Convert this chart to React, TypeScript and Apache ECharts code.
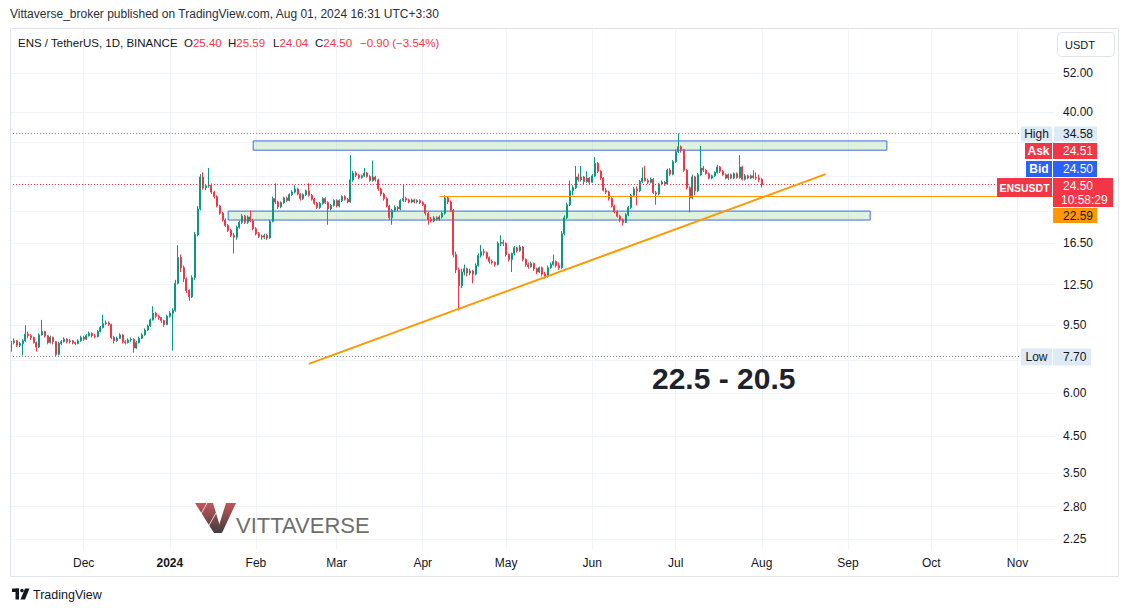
import React, { useEffect, useRef } from "react";
import * as echarts from "echarts";

// ---------- data ----------
const START_UTC = Date.UTC(2023, 10, 5); // first daily candle: 2023-11-05
const AXIS_DAYS = 376; // daily slots on the time axis (incl. empty future)
const FIRST_OPEN = 8.05;

// daily candles, each [close, high, low]; open = previous close
const nov2023 = [
  [8.45, 8.55, 7.95], [8.55, 8.7, 8.35], [8.3, 8.6, 8.2], [8.4, 8.5, 8.2], [8.55, 8.65, 7.75],
  [8.95, 9.5, 8.5], [8.85, 9.1, 8.7], [8.75, 8.95, 8.6], [8.45, 8.8, 8.4], [8.2, 8.5, 7.95],
  [8.9, 9.0, 8.15], [9.1, 9.85, 8.85], [8.85, 9.15, 8.75], [8.45, 8.9, 8.35], [8.75, 8.85, 8.4],
  [8.5, 8.8, 8.35], [7.8, 8.55, 7.7], [8.4, 8.5, 7.75], [8.5, 8.6, 8.3], [8.65, 8.75, 8.45],
  [8.5, 8.7, 8.4], [8.55, 8.65, 8.4], [8.45, 8.6, 8.35], [8.4, 8.5, 8.3], [8.55, 8.65, 8.35],
  [8.75, 8.85, 8.5],
];
const dec2023 = [
  [8.65, 8.85, 8.55], [8.85, 8.95, 8.6], [9.0, 9.1, 8.8], [8.85, 9.05, 8.75], [8.8, 8.95, 8.7],
  [9.1, 9.2, 8.75], [9.35, 9.45, 9.05], [9.6, 10.2, 9.3], [9.65, 9.8, 9.5], [9.55, 9.75, 9.45],
  [8.75, 9.6, 8.65], [8.55, 8.85, 8.4], [8.7, 8.8, 8.5], [8.9, 9.0, 8.65], [8.5, 8.95, 8.4],
  [8.45, 8.6, 8.35], [8.6, 8.7, 8.4], [8.65, 8.75, 8.5], [8.15, 8.7, 7.9], [8.45, 8.55, 8.1],
  [8.7, 8.8, 8.4], [8.9, 9.0, 8.65], [9.2, 9.3, 8.85], [9.45, 9.55, 9.15], [9.85, 9.95, 9.4],
  [10.3, 10.8, 9.8], [10.1, 10.4, 9.95], [10.0, 10.2, 9.85], [9.8, 10.05, 9.65], [9.55, 9.85, 9.4],
  [10.1, 10.2, 9.5],
];
const jan2024 = [
  [10.3, 10.45, 10.0], [10.5, 10.65, 8.0], [12.6, 12.9, 10.4], [15.0, 16.3, 12.5], [14.0, 15.3, 13.6],
  [13.0, 14.2, 12.7], [12.0, 13.1, 11.8], [11.5, 12.1, 11.2], [13.1, 13.3, 11.4], [17.5, 17.8, 12.9],
  [20.8, 21.2, 17.3], [25.8, 26.3, 20.6], [24.0, 26.6, 23.7], [24.3, 24.6, 23.6], [24.4, 27.4, 24.0],
  [23.3, 24.7, 23.0], [22.6, 23.5, 22.3], [21.2, 22.8, 21.0], [20.2, 21.4, 20.0], [19.3, 20.4, 19.1],
  [18.6, 19.5, 18.4], [18.0, 18.8, 17.8], [17.4, 18.2, 17.2], [17.2, 17.7, 15.4], [18.4, 18.6, 16.9],
  [19.0, 19.2, 18.2], [19.8, 20.1, 18.8], [19.0, 20.0, 18.8], [19.7, 19.9, 18.8], [19.2, 20.6, 19.0],
  [18.2, 19.4, 18.0],
];
const feb2024 = [
  [17.6, 18.4, 17.4], [17.3, 17.8, 17.1], [17.2, 17.5, 16.9], [17.4, 17.6, 17.0], [17.1, 17.6, 16.9],
  [19.1, 19.3, 17.0], [22.3, 22.6, 19.0], [21.8, 24.7, 21.5], [21.1, 22.0, 20.8], [21.7, 21.9, 20.9],
  [22.4, 22.6, 21.5], [22.0, 22.6, 21.8], [22.9, 23.1, 21.9], [23.3, 23.6, 22.7], [23.8, 24.4, 23.1],
  [23.0, 24.0, 22.8], [22.3, 23.1, 22.0], [22.9, 23.1, 22.1], [23.5, 23.7, 22.7], [22.8, 24.7, 22.6],
  [22.2, 23.0, 22.0], [21.6, 22.4, 21.4], [21.0, 21.8, 20.8], [21.6, 21.8, 20.8], [22.3, 22.5, 21.4],
  [21.7, 22.5, 21.5], [20.8, 21.9, 18.7], [21.3, 21.5, 20.6], [22.0, 22.2, 21.1],
];
const mar2024 = [
  [21.2, 22.2, 21.0], [22.0, 22.2, 21.0], [22.6, 22.8, 21.8], [22.2, 22.8, 22.0], [21.8, 22.4, 21.6],
  [25.3, 29.9, 21.7], [26.5, 26.9, 25.0], [26.1, 26.8, 25.8], [25.7, 26.3, 25.4], [26.0, 26.2, 25.5],
  [26.5, 27.4, 25.8], [25.9, 26.7, 25.7], [25.2, 26.1, 25.0], [25.8, 28.8, 25.0], [25.3, 26.0, 25.0],
  [23.8, 25.5, 23.5], [23.0, 24.0, 22.7], [22.3, 23.2, 22.0], [21.2, 22.5, 21.0], [19.6, 21.4, 19.3],
  [20.6, 20.8, 18.7], [21.0, 21.3, 20.4], [20.8, 21.2, 20.5], [22.0, 22.2, 20.6], [22.3, 24.4, 21.8],
  [22.1, 22.6, 21.8], [21.8, 22.3, 21.6], [22.1, 22.3, 21.6], [21.8, 22.3, 21.6], [22.0, 22.2, 21.6],
  [21.7, 22.2, 21.5],
];
const apr2024 = [
  [21.4, 21.9, 21.2], [20.2, 21.5, 19.9], [19.4, 20.4, 18.7], [19.2, 19.7, 19.0], [19.6, 19.8, 19.0],
  [19.4, 19.8, 19.2], [19.7, 19.9, 19.2], [20.2, 20.4, 19.5], [22.4, 22.8, 20.0], [21.8, 22.6, 21.5],
  [20.6, 22.0, 20.4], [15.3, 20.8, 15.0], [13.8, 15.6, 13.5], [12.4, 14.0, 10.5], [13.6, 13.9, 12.2],
  [13.9, 14.3, 13.3], [13.5, 14.0, 13.2], [13.7, 13.9, 13.3], [13.4, 13.8, 12.6], [14.2, 14.4, 13.3],
  [15.2, 15.4, 14.1], [15.6, 16.3, 15.0], [15.5, 15.9, 15.2], [15.0, 15.6, 14.8], [14.6, 15.1, 14.4],
  [14.5, 14.8, 14.3], [14.3, 14.6, 14.1], [16.5, 16.7, 14.2], [16.6, 17.4, 16.2], [16.5, 16.9, 16.2],
];
const may2024 = [
  [15.3, 16.6, 15.1], [14.8, 15.4, 14.6], [15.4, 15.5, 13.6], [16.0, 16.2, 15.2], [15.7, 16.1, 15.5],
  [16.1, 16.3, 15.6], [14.8, 16.2, 14.6], [14.3, 14.9, 14.1], [14.1, 14.5, 13.9], [14.4, 14.6, 14.0],
  [13.9, 14.5, 13.7], [13.6, 14.0, 13.4], [14.0, 14.1, 13.5], [13.4, 14.1, 13.2], [13.2, 13.6, 13.0],
  [14.0, 14.2, 13.1], [14.3, 14.5, 13.9], [14.6, 15.3, 14.2], [14.2, 14.7, 14.0], [14.0, 14.5, 13.8],
  [17.6, 17.9, 13.9], [19.6, 19.9, 17.4], [21.4, 21.7, 19.4], [23.5, 25.2, 21.2], [24.0, 24.4, 22.8],
  [25.8, 27.8, 23.8], [25.3, 26.4, 25.0], [25.8, 27.8, 25.0], [25.0, 26.0, 24.6], [25.6, 26.8, 24.8],
  [24.9, 25.8, 24.6],
];
const jun2024 = [
  [26.0, 26.3, 24.8], [28.3, 29.5, 25.8], [26.8, 28.5, 26.5], [25.6, 27.0, 25.3], [23.6, 25.8, 23.4],
  [23.3, 24.0, 23.0], [22.3, 23.5, 22.0], [21.2, 22.5, 21.0], [20.4, 21.4, 20.2], [19.8, 20.6, 19.6],
  [19.3, 20.0, 19.0], [19.0, 19.5, 18.6], [20.0, 20.2, 18.9], [21.0, 21.2, 19.8], [22.8, 23.0, 20.8],
  [23.8, 24.1, 22.6], [23.5, 24.2, 21.3], [25.0, 25.3, 23.3], [25.6, 27.5, 24.8], [25.2, 27.8, 25.0],
  [24.9, 25.5, 24.6], [25.4, 25.7, 24.7], [23.2, 25.6, 23.0], [23.0, 23.5, 21.4], [24.6, 24.8, 22.8],
  [24.9, 25.2, 24.4], [24.6, 25.1, 24.3], [27.0, 27.3, 24.5], [26.3, 27.4, 26.0], [28.6, 28.9, 26.1],
];
const jul2024 = [
  [30.6, 31.0, 28.4], [31.6, 34.58, 30.3], [31.0, 31.9, 30.4], [27.0, 31.2, 26.7], [24.0, 27.2, 23.7],
  [22.4, 24.2, 20.3], [25.8, 26.2, 22.2], [23.5, 26.0, 22.8], [26.2, 26.5, 23.3], [27.4, 31.8, 26.0],
  [27.0, 27.8, 26.7], [26.4, 27.2, 26.2], [25.6, 26.6, 25.4], [26.0, 26.2, 25.4], [26.6, 26.8, 25.8],
  [27.6, 28.0, 26.4], [26.8, 27.8, 26.5], [26.2, 27.0, 26.0], [25.6, 26.4, 25.4], [26.2, 26.4, 25.3],
  [25.6, 26.4, 25.4], [26.4, 26.6, 25.4], [25.7, 26.6, 25.5], [27.6, 29.9, 25.5], [25.4, 27.8, 25.2],
  [26.0, 26.3, 25.2], [25.6, 26.2, 25.4], [26.0, 26.2, 25.4], [25.7, 27.0, 25.5], [25.6, 26.6, 25.3],
  [25.4, 26.2, 24.9],
];
const aug2024 = [[24.5, 25.59, 24.04]];

const LEGEND_OHLC = ["25.40", "25.59", "24.04", "24.50"];
const LEGEND_CHANGE = "\u22120.90 (\u22123.54%)";

const monthLabels = ["Dec", "2024", "Feb", "Mar", "Apr", "May", "Jun", "Jul", "Aug", "Sep", "Oct", "Nov"];
const priceTicks = [52, 40, 16.5, 12.5, 9.5, 6, 4.5, 3.5, 2.8, 2.25];
const gridPrices = [52, 40, 32.5, 26, 20.5, 16.5, 12.5, 9.5, 7.5, 6, 4.5, 3.5, 2.8, 2.25];

const HIGH = 34.58;
const LOW = 7.7;
const LAST = 24.5;
const ASK = 24.51;
const BID = 24.5;
const H_LEVEL = 22.59;
const COUNTDOWN = "10:58:29";

const trendLine = [["2024-02-20", 7.32], ["2024-08-24", 26.3]];
const hLevelStart = "2024-04-07";
const upperZone = { from: "2024-01-31", to: "2024-09-15", top: 32.9, bottom: 30.9 };
const lowerZone = { from: "2024-01-22", to: "2024-09-09", top: 20.5, bottom: 19.3 };

const Y_MIN = 2.103;
const Y_MAX = 70.4;

// ---------- styles ----------
const UP = "#089981";
const DOWN = "#f23645";
const BLUE = "#2962ff";
const ORANGE = "#ff9800";
const TEXT = "#131722";
const TAG_BG = "#dfeaf7";
const GRID = "#f0f3fa";
const FONT = '"Liberation Sans", Arial, sans-serif';

function buildCategories(): string[] {
  const out: string[] = [];
  for (let i = 0; i < AXIS_DAYS; i++) {
    out.push(new Date(START_UTC + i * 86400000).toISOString().slice(0, 10));
  }
  return out;
}

function buildCandles(): number[][] {
  const months = [nov2023, dec2023, jan2024, feb2024, mar2024, apr2024, may2024, jun2024, jul2024, aug2024];
  const out: number[][] = [];
  let open = FIRST_OPEN;
  for (const m of months) {
    for (const [c, h, l] of m) {
      out.push([open, c, l, h]);
      open = c;
    }
  }
  return out;
}

export default function App() {
  const ref = useRef<HTMLDivElement>(null);

  useEffect(() => {
    const el = ref.current as HTMLDivElement;
    const chart = echarts.init(el, null, { renderer: "svg" });
    const categories = buildCategories();
    const candles = buildCandles();
    const monthStarts = categories.filter((d) => d.endsWith("-01"));
    const labelOf: Record<string, string> = {};
    monthStarts.forEach((d, k) => (labelOf[d] = monthLabels[k] || ""));
    const lastCat = categories[categories.length - 1];

    const option: any = {
      animation: false,
      backgroundColor: "#ffffff",
      grid: { left: 10, right: 74, top: 28, bottom: 63, containLabel: false },
      xAxis: {
        type: "category",
        data: categories,
        boundaryGap: true,
        axisLine: { show: false },
        axisTick: { show: false },
        splitLine: { show: false },
        axisLabel: {
          interval: (_i: number, v: string) => v.endsWith("-01"),
          formatter: (v: string) => (labelOf[v] === "2024" ? "{b|2024}" : labelOf[v] || ""),
          color: TEXT,
          fontSize: 12,
          fontFamily: FONT,
          margin: 8,
          rich: { b: { fontWeight: "bold", fontSize: 12, color: TEXT, fontFamily: FONT } },
        },
      },
      yAxis: {
        type: "log",
        position: "right",
        min: Y_MIN,
        max: Y_MAX,
        axisLine: { show: false },
        axisTick: { show: false },
        axisLabel: { show: false },
        splitLine: { show: false },
      },
      series: [
        {
          type: "line",
          data: [],
          z: 0,
          silent: true,
          markLine: {
            silent: true,
            z: 0,
            symbol: ["none", "none"],
            label: { show: false },
            lineStyle: { color: GRID, width: 1, type: "solid" },
            data: [
              ...gridPrices.map((v) => ({ yAxis: v })),
              ...monthStarts.map((d) => ({ xAxis: d })),
            ],
          },
        },
        {
          type: "candlestick",
          data: candles,
          barWidth: 1.5,
          z: 2,
          itemStyle: { color: UP, color0: DOWN, borderColor: UP, borderColor0: DOWN, borderWidth: 1 },
          markArea: {
            silent: true,
            z: 1,
            data: [
              [
                {
                  coord: [upperZone.from, upperZone.top],
                  itemStyle: { color: "rgba(76,175,80,0.18)", borderColor: "#3f6fd8", borderWidth: 1 },
                },
                { coord: [upperZone.to, upperZone.bottom] },
              ],
              [
                {
                  coord: [lowerZone.from, lowerZone.top],
                  itemStyle: { color: "rgba(76,175,80,0.18)", borderColor: "#3f6fd8", borderWidth: 1 },
                },
                { coord: [lowerZone.to, lowerZone.bottom] },
              ],
            ],
          },
          markLine: {
            silent: true,
            symbol: ["none", "none"],
            label: { show: false },
            data: [
              { yAxis: HIGH, lineStyle: { color: "#8a8e99", width: 1, type: [1, 2] } },
              { yAxis: LOW, lineStyle: { color: "#8a8e99", width: 1, type: [1, 2] } },
              { yAxis: LAST, lineStyle: { color: DOWN, width: 1, type: [1, 2] } },
              [
                { coord: [hLevelStart, H_LEVEL], lineStyle: { color: ORANGE, width: 1, type: "solid" } },
                { coord: [lastCat, H_LEVEL] },
              ],
              [
                { coord: trendLine[0], lineStyle: { color: ORANGE, width: 2, type: "solid" } },
                { coord: trendLine[1] },
              ],
            ],
          },
        },
      ],
    };
    chart.setOption(option);

    const yOf = (v: number) => chart.convertToPixel({ yAxisIndex: 0 }, v) as number;
    const g: any[] = [];
    const txt = (x: number, y: number, text: string, o: any = {}) =>
      g.push({
        type: "text",
        z: 100,
        style: {
          x,
          y,
          text,
          fill: o.fill || TEXT,
          fontSize: o.size || 12,
          fontFamily: o.font || FONT,
          fontWeight: o.weight || "normal",
          align: o.align || "left",
          verticalAlign: o.va || "middle",
          rich: o.rich,
        },
      });
    const rect = (x: number, y: number, w: number, h: number, fill: string, o: any = {}) =>
      g.push({
        type: "rect",
        z: o.z || 90,
        shape: { x, y, width: w, height: h, r: o.r || 0 },
        style: { fill, stroke: o.stroke || null, lineWidth: o.stroke ? 1 : 0 },
      });

    // frame
    g.push({
      type: "rect",
      z: 80,
      shape: { x: 10.5, y: 28.5, width: 1108, height: 548 },
      style: { fill: "none", stroke: "#e0e3eb", lineWidth: 1 },
    });

    // header and legend
    txt(10, 14, "Vittaverse_broker published on TradingView.com, Aug 01, 2024 16:31 UTC+3:30", {
      fill: "#2a2e39",
    });
    txt(18, 42.5, "ENS / TetherUS, 1D, BINANCE", { size: 11.5 });
    const rich = {
      k: { fill: TEXT, fontSize: 11.5, fontFamily: FONT },
      v: { fill: DOWN, fontSize: 11.5, fontFamily: FONT },
    };
    const keys = ["O", "H", "L", "C"];
    const keyX = [184, 228, 273, 315];
    keys.forEach((k, i) => txt(keyX[i], 42.5, `{k|${k}}{v|${LEGEND_OHLC[i]}}`, { rich, size: 11.5 }));
    txt(360, 42.5, `{v|${LEGEND_CHANGE}}`, { rich, size: 11.5 });

    // price scale tick labels
    priceTicks.forEach((v) => txt(1063, yOf(v), v.toFixed(2)));

    // USDT button
    rect(1057.5, 32.5, 57, 24, "#ffffff", { stroke: "#e0e3eb", r: 4 });
    txt(1080, 44.5, "USDT", { size: 11, align: "center" });

    // High / Low tags
    const yH = yOf(HIGH);
    rect(1021, yH - 7, 31, 15, TAG_BG);
    rect(1054, yH - 7, 43, 15, TAG_BG);
    txt(1036.5, yH + 0.5, "High", { align: "center" });
    txt(1063, yH + 0.5, HIGH.toFixed(2));
    const yL = yOf(LOW);
    rect(1021, yL - 8, 31, 17, TAG_BG);
    rect(1053, yL - 8, 38, 17, TAG_BG);
    txt(1036.5, yL + 0.5, "Low", { align: "center" });
    txt(1063, yL + 0.5, LOW.toFixed(2));

    // last price, bid, ask, level
    const yP = yOf(LAST);
    const top = Math.round(yP) - 7;
    rect(997, top, 55, 19, DOWN);
    txt(1024.5, top + 9.5, "ENSUSDT", { fill: "#ffffff", align: "center", weight: "bold", size: 10.5 });
    rect(1053, top, 60, 29, DOWN);
    txt(1063, top + 8, LAST.toFixed(2), { fill: "#ffffff" });
    txt(1061, top + 22, COUNTDOWN, { fill: "#ffffff" });
    rect(1026, top - 17, 26, 16, BLUE);
    txt(1039, top - 9, "Bid", { fill: "#ffffff", align: "center", weight: "bold" });
    rect(1053, top - 17, 44, 16, BLUE);
    txt(1063, top - 9, BID.toFixed(2), { fill: "#ffffff" });
    rect(1025, top - 35, 27, 16, DOWN);
    txt(1038.5, top - 27, "Ask", { fill: "#ffffff", align: "center", weight: "bold" });
    rect(1053, top - 35, 44, 16, DOWN);
    txt(1063, top - 27, ASK.toFixed(2), { fill: "#ffffff" });
    rect(1053, top + 30, 44, 15, ORANGE);
    txt(1063, top + 37.5, H_LEVEL.toFixed(2));

    // annotation text
    txt(652, 378, "22.5 - 20.5", { size: 30, weight: "bold", fill: "#1e222d" });

    // watermark logo
    const grad = new echarts.graphic.LinearGradient(0, 0, 0, 1, [
      { offset: 0, color: "#c4555a" },
      { offset: 1, color: "#3e3e3e" },
    ]);
    g.push({
      type: "polygon",
      z: 60,
      shape: { points: [[195, 503], [213, 503], [222, 533], [214, 533]] },
      style: { fill: grad },
    });
    g.push({
      type: "polygon",
      z: 60,
      shape: { points: [[226, 503], [236, 503], [222, 533], [218.5, 527]] },
      style: { fill: grad },
    });
    g.push({
      type: "line",
      z: 61,
      shape: { x1: 200, y1: 516, x2: 207, y2: 503 },
      style: { stroke: "#ffffff", lineWidth: 0.8 },
    });
    g.push({
      type: "line",
      z: 61,
      shape: { x1: 208, y1: 527, x2: 216, y2: 513 },
      style: { stroke: "#ffffff", lineWidth: 0.8 },
    });
    txt(236, 525.5, "VITTAVERSE", { size: 22, fill: "#6e6e6e" });

    // footer
    rect(12, 588.5, 7, 3.5, TEXT, { z: 100 });
    rect(15.5, 588.5, 3.5, 11, TEXT, { z: 100 });
    g.push({ type: "circle", z: 100, shape: { cx: 22, cy: 590.5, r: 1.8 }, style: { fill: TEXT } });
    g.push({
      type: "polygon",
      z: 100,
      shape: { points: [[25, 588.5], [29.5, 588.5], [25, 599.5], [20.5, 599.5]] },
      style: { fill: TEXT },
    });
    txt(33, 594.5, "TradingView", { size: 12.5 });

    chart.setOption({ graphic: g });

    return () => chart.dispose();
  }, []);

  return (
    <div
      ref={ref}
      style={{ position: "absolute", left: 0, top: 0, width: 1129, height: 612, background: "#ffffff" }}
    />
  );
}
